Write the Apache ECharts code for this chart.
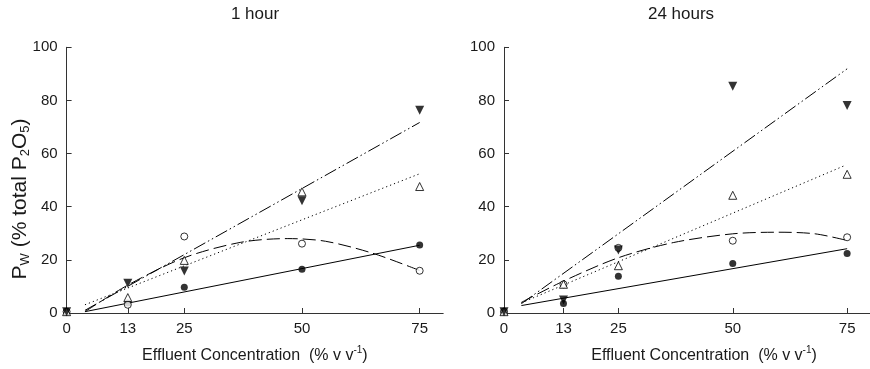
<!DOCTYPE html>
<html>
<head>
<meta charset="utf-8">
<script src="https://cdn.jsdelivr.net/npm/echarts@6/dist/echarts.min.js"></script>
<style>
html,body{margin:0;padding:0;background:#fff;}
#c{width:870px;height:369px;}
</style>
</head>
<body>
<div id="c"></div>
<script>
// ---- Data ----
const xTicks = [0, 13, 25, 50, 75];
const conc = [0, 13, 25, 50, 75];

// 1 hour
const h1FilledCircle = [0.5, 3.8, 9.7, 16.5, 25.6];
const h1OpenCircle   = [0.5, 3.1, 28.8, 26.1, 15.9];
const h1OpenTri      = [0.5, 5.8, 19.8, 45.6, 47.6];
const h1FilledTri    = [0.5, 11.2, 15.8, 42.2, 76.3];
// fitted lines 1 hour
const h1SolidFit   = [[3.9, 0.5], [75, 25.5]];
const h1DashDotFit = [[3.9, 1.0], [75, 71.7]];
const h1DottedFit  = [[3.9, 3.1], [75, 52.4]];
const h1DashedFit  = [[3.9, 0.5], [13, 10.5], [25, 20.8], [37, 26.6], [47, 28], [55, 27], [65, 22.5], [75, 16]];

// 24 hours
const h24FilledCircle = [0.5, 3.6, 13.8, 18.6, 22.4];
const h24OpenCircle   = [0.5, 10.8, 24.5, 27.2, 28.5];
const h24OpenTri      = [0.5, 10.8, 17.8, 44.3, 52.2];
const h24FilledTri    = [0.5, 4.9, 23.7, 85.3, 78.1];
// fitted lines 24 hours
const h24SolidFit   = [[3.8, 2.8], [75, 24.2]];
const h24DashDotFit = [[3.8, 3.5], [75, 91.9]];
const h24DottedFit  = [[3.8, 3.8], [74.5, 55.5]];
const h24DashedFit  = [[3.8, 4], [13, 12], [25, 20.8], [37, 26.5], [50, 29.8], [60, 30.4], [68, 29.8], [75, 27.3]];

const yTicks = [0, 20, 40, 60, 80, 100];
const titles = ['1 hour', '24 hours'];
const yName = '{a|P}{s|W}{a| (% total P}{s|2}{a|O}{s|5}{a|)}';
const xName = '{a|Effluent Concentration  (% v v}{s|-1}{a|)}';

// ---- Helpers ----
const FONT = 'Liberation Sans, Arial, sans-serif';
const TXT = '#1a1a1a';
const AX = '#333';

function pts(ys) { return conc.map((x, i) => [x, ys[i]]); }

function xAxis(gi, namePad) {
  return {
    type: 'value', gridIndex: gi, min: 0, max: 80,
    axisLine: { show: true, lineStyle: { color: AX, width: 1 } },
    axisTick: { show: true, inside: true, length: 5, customValues: xTicks, lineStyle: { color: AX } },
    axisLabel: { customValues: xTicks, color: TXT, fontFamily: FONT, fontSize: 15, margin: 8 },
    splitLine: { show: false },
    name: xName,
    nameLocation: 'middle', nameGap: 32,
    nameTextStyle: {
      padding: namePad,
      rich: {
        a: { fontFamily: FONT, fontSize: 16, color: TXT, lineHeight: 22 },
        s: { fontFamily: FONT, fontSize: 10, color: TXT, lineHeight: 10, verticalAlign: 'top' }
      }
    }
  };
}
function yAxis(gi) {
  return {
    type: 'value', gridIndex: gi, min: 0, max: 100, interval: 20,
    axisLine: { show: true, lineStyle: { color: AX, width: 1 } },
    axisTick: { show: true, inside: true, length: 5, lineStyle: { color: AX } },
    axisLabel: { color: TXT, fontFamily: FONT, fontSize: 15, margin: 9 },
    splitLine: { show: false }
  };
}

function scat(gi, ys, kind) {
  const base = { type: 'scatter', xAxisIndex: gi, yAxisIndex: gi, data: pts(ys), z: 5 };
  if (kind === 'fc') Object.assign(base, { symbol: 'circle', symbolSize: 7, itemStyle: { color: '#000' } });
  if (kind === 'oc') Object.assign(base, { symbol: 'circle', symbolSize: 7, itemStyle: { color: '#fff', borderColor: '#000', borderWidth: 1 } });
  if (kind === 'ot') Object.assign(base, { symbol: 'triangle', symbolSize: 8, itemStyle: { color: '#fff', borderColor: '#000', borderWidth: 1 } });
  if (kind === 'ft') Object.assign(base, { symbol: 'triangle', symbolSize: 9, symbolRotate: 180, itemStyle: { color: '#000' } });
  return base;
}
function fit(gi, data, dash, smooth) {
  return {
    type: 'line', xAxisIndex: gi, yAxisIndex: gi, data: data, showSymbol: false, symbol: 'none',
    smooth: smooth || false, z: 3, silent: true,
    lineStyle: { color: '#000', width: 1, type: dash }
  };
}

const DASHDOT = [13, 3, 1.5, 3, 1.5, 3];
const DOT = [1.2, 3];
const DASH = [13, 5];

const option = {
  animation: false,
  backgroundColor: '#fff',
  grid: [
    { left: 66.6, top: 47.3, width: 376.6, height: 268.4 },
    { left: 504, top: 47.3, width: 375.5, height: 268.4 }
  ],
  xAxis: [xAxis(0, [0, 0, 0, 0]), xAxis(1, [0, 0, 0, 34])],
  yAxis: [yAxis(0), yAxis(1)],
  graphic: [
    { type: 'text', x: 255, y: 14, style: { text: titles[0], fill: TXT, font: '17px ' + FONT, align: 'center', verticalAlign: 'middle' } },
    { type: 'text', x: 681, y: 14, style: { text: titles[1], fill: TXT, font: '17px ' + FONT, align: 'center', verticalAlign: 'middle' } },
    { type: 'text', x: 20, y: 199, rotation: Math.PI / 2,
      style: {
        text: yName, align: 'center', verticalAlign: 'middle',
        rich: {
          a: { fontFamily: FONT, fontSize: 21, fill: TXT, lineHeight: 24 },
          s: { fontFamily: FONT, fontSize: 13, fill: TXT, lineHeight: 12, verticalAlign: 'bottom' }
        }
      } }
  ],
  series: [
    fit(0, h1SolidFit, 'solid'),
    fit(0, h1DashDotFit, DASHDOT),
    fit(0, h1DottedFit, DOT),
    fit(0, h1DashedFit, DASH, 0.3),
    scat(0, h1FilledCircle, 'fc'),
    scat(0, h1OpenCircle, 'oc'),
    scat(0, h1OpenTri, 'ot'),
    scat(0, h1FilledTri, 'ft'),
    fit(1, h24SolidFit, 'solid'),
    fit(1, h24DashDotFit, DASHDOT),
    fit(1, h24DottedFit, DOT),
    fit(1, h24DashedFit, DASH, 0.3),
    scat(1, h24FilledCircle, 'fc'),
    scat(1, h24OpenCircle, 'oc'),
    scat(1, h24OpenTri, 'ot'),
    scat(1, h24FilledTri, 'ft')
  ]
};
const chart = echarts.init(document.getElementById('c'), null, { renderer: 'canvas' });
chart.setOption(option);
</script>
</body>
</html>
